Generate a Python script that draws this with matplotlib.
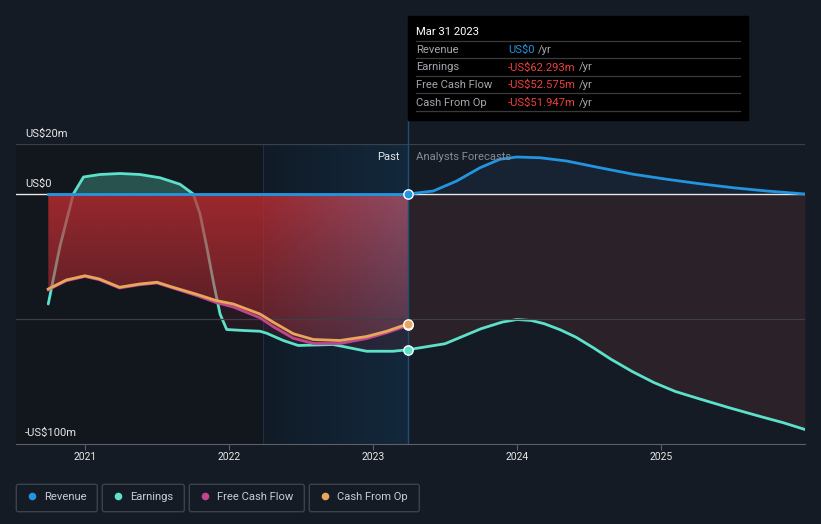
import numpy as np
import matplotlib.pyplot as plt
from matplotlib.patches import Rectangle, FancyBboxPatch

# data (decimal years, US$ millions)
earn_past_x = [2020.745, 2020.826, 2020.919, 2020.99, 2021.104, 2021.243, 2021.382, 2021.521,
               2021.66, 2021.752, 2021.799, 2021.845, 2021.891, 2021.938, 2021.984, 2022.10,
               2022.215, 2022.262, 2022.377, 2022.481, 2022.722, 2022.792, 2022.956, 2023.139,
               2023.243]
earn_past_y = [-44, -21, 0, 6.8, 7.8, 8.2, 7.8, 6.5, 3.9, 0, -8, -21, -35, -48, -54.2, -54.6,
               -54.9, -55.7, -58.6, -60.6, -60.2, -61, -62.9, -62.9, -62.293]

earn_fc_x = [2023.243, 2023.5, 2023.75, 2023.9, 2024.0, 2024.1, 2024.19, 2024.30, 2024.41,
             2024.53, 2024.65, 2024.8, 2024.95, 2025.1, 2025.27, 2025.48, 2025.69, 2025.85, 2026.0]
earn_fc_y = [-62.293, -59.9, -53.9, -51.2, -50.2, -50.6, -51.9, -54.3, -57.3, -61.5, -66,
             -71, -75.4, -79, -82, -85.6, -89, -91.5, -94.2]

cfo_x = [2020.745, 2020.87, 2021.0, 2021.10, 2021.24, 2021.38, 2021.50, 2021.61, 2021.78,
         2021.91, 2022.03, 2022.215, 2022.308, 2022.447, 2022.586, 2022.771, 2022.956,
         2023.095, 2023.243]
cfo_y = [-38, -34.4, -32.7, -34, -37.3, -36, -35.3, -37.3, -40.2, -42.6, -44, -48, -51.3,
         -55.9, -58.2, -58.6, -57, -54.9, -51.947]
fcf_y = [-38.3, -34.7, -33.0, -34.3, -37.6, -36.3, -35.6, -37.6, -40.7, -43.4, -45.2, -49.5,
         -53.1, -57.7, -59.8, -59.8, -57.8, -55.5, -52.575]

rev_past_x = [2020.745, 2023.243]
rev_past_y = [0, 0]
rev_fc_x = [2023.245, 2023.419, 2023.581, 2023.743, 2023.882, 2023.998, 2024.16, 2024.345,
            2024.576, 2024.808, 2025.04, 2025.271, 2025.502, 2025.734, 2026.0]
rev_fc_y = [0, 1.2, 5.2, 10.5, 13.9, 14.8, 14.5, 13.2, 10.5, 7.9, 5.9, 4.1, 2.5, 1.2, 0]

years = [2021, 2022, 2023, 2024, 2025]
legend_names = ['Revenue', 'Earnings', 'Free Cash Flow', 'Cash From Op']
tip_rows = [('Revenue', 'US$0'), ('Earnings', '-US$62.293m'),
            ('Free Cash Flow', '-US$52.575m'), ('Cash From Op', '-US$51.947m')]

c_rev = '#2394df'
c_earn = '#5ce1cb'
c_fcf = '#c2468c'
c_cfo = '#e8a85c'
bg = '#151b25'

W, H = 821, 524
plt.rcParams['font.family'] = ['Roboto', 'DejaVu Sans']
fs = 8.1

fig = plt.figure(figsize=(W / 100, H / 100), dpi=100, facecolor=bg)
ax = fig.add_axes([16 / W, 80 / H, 789 / W, 300 / H])
ax.set_facecolor(bg)
ax.set_xlim(2020.521, 2026.0)
ax.set_ylim(-100, 20)

past_end = 2023.243
hl_start = 2022.238
start = 2020.745

# background regions
ax.axvspan(2020.521, hl_start, color='#12161d', lw=0, zorder=0)
g = np.linspace(0, 1, 200)
c0 = np.array([0x11, 0x1b, 0x27]) / 255
c1 = np.array([0x13, 0x28, 0x3c]) / 255
img = (c0[None, :] * (1 - g[:, None]) + c1[None, :] * g[:, None])[None, :, :]
ax.imshow(img, extent=[hl_start, past_end, -100, 20], aspect='auto', zorder=0.5)
ax.axvline(hl_start, color='#1d3042', lw=0.8, zorder=1)

# grid
ax.axhline(20, color='#3a4049', lw=0.9, zorder=1)
ax.axhline(-50, color='#3d3f47', lw=0.9, zorder=4)
ax.axhline(0, color='#e8e8e8', lw=1.0, zorder=4)

# fills
ex = np.array(earn_past_x)
ey = np.array(earn_past_y)
ax.fill_between(ex, ey, 0, where=ey >= 0, interpolate=True, color='#3d8f80', alpha=0.5, lw=0, zorder=2)
ax.fill_between(ex, np.minimum(ey, 0), 0, color='#b03040', alpha=0.13, lw=0, zorder=2)
ax.fill_between(earn_fc_x, earn_fc_y, 0, color='#2a2129', lw=0, zorder=1.5)
ax.fill_between(rev_fc_x, rev_fc_y, 0, color='#1a2a3c', alpha=0.6, lw=0, zorder=1.5)

ax.plot(earn_past_x, earn_past_y, color=c_earn, lw=2, zorder=3, solid_capstyle='round')
ax.plot(earn_fc_x, earn_fc_y, color=c_earn, lw=2, zorder=3, solid_capstyle='round')

# red gradient fill for cash flow area
nx, ny = 300, 120
xs = np.linspace(start, past_end, nx)
t_h = np.clip((xs - hl_start) / (past_end - hl_start), 0, 1)
red = np.array([190, 45, 50]) / 255
mauve = np.array([170, 85, 110]) / 255
rgb = red[None, :] * (1 - t_h[:, None]) + mauve[None, :] * t_h[:, None]
alpha = np.linspace(0.78, 0.3, ny)
rgba = np.zeros((ny, nx, 4))
rgba[:, :, :3] = rgb[None, :, :]
rgba[:, :, 3] = alpha[:, None]
poly = ax.fill_between(cfo_x, fcf_y, 0, color='none', lw=0)
im = ax.imshow(rgba, extent=[start, past_end, -62, 0], origin='upper', aspect='auto', zorder=3.5)
im.set_clip_path(poly.get_paths()[0], transform=ax.transData)

ax.plot(cfo_x, fcf_y, color=c_fcf, lw=2, zorder=5)
ax.plot(cfo_x, cfo_y, color=c_cfo, lw=2, zorder=5.5)
ax.plot(rev_past_x, rev_past_y, color=c_rev, lw=2, zorder=6)
ax.plot(rev_fc_x, rev_fc_y, color=c_rev, lw=2, zorder=6)

ax.axvline(past_end, color='#1f4f75', lw=1, zorder=5)

ax.scatter([past_end], [fcf_y[-1]], s=45, color=c_fcf, edgecolor='white', lw=1, zorder=7)
ax.scatter([past_end], [cfo_y[-1]], s=45, color=c_cfo, edgecolor='white', lw=1, zorder=7)
ax.scatter([past_end], [earn_past_y[-1]], s=45, color=c_earn, edgecolor='white', lw=1, zorder=7)
ax.scatter([past_end], [0], s=45, color=c_rev, edgecolor='white', lw=1, zorder=7)

for s in ['top', 'right', 'left']:
    ax.spines[s].set_visible(False)
ax.spines['bottom'].set_color('#5a606a')
ax.set_yticks([])
ax.set_xticks(years)
ax.set_xticklabels([])
ax.tick_params(axis='x', length=4, color='#5a606a')

# overlay in pixel coords
ov = fig.add_axes([0, 0, 1, 1])
ov.set_xlim(0, W)
ov.set_ylim(H, 0)
ov.axis('off')
ov.patch.set_alpha(0)

ov.plot([408, 408], [120, 144], color='#1f4f75', lw=1)

for yr in years:
    px = 85 + (yr - 2021) * 144
    ov.text(px, 460.5, str(yr), color='#e6e6e6', fontsize=7.5, ha='center', va='baseline')

ov.text(25, 136.5, 'US$20m', color='#e6e6e6', fontsize=fs, va='baseline')
ov.text(25, 186.5, 'US$0', color='#e6e6e6', fontsize=fs, va='baseline')
ov.text(25, 436, '-US$100m', color='#e6e6e6', fontsize=fs, va='baseline')
ov.text(400, 160, 'Past', color='#e6e6e6', fontsize=fs, ha='right', va='baseline')
ov.text(416, 160.5, 'Analysts Forecasts', color='#868b94', fontsize=fs, va='baseline')

# tooltip
ov.add_patch(Rectangle((408, 16), 340, 104, color='black', zorder=10))
ov.text(416, 35.3, 'Mar 31 2023', color='white', fontsize=fs, va='baseline', zorder=11)
for yline in [41.3, 58.3, 76.3, 93.3, 111]:
    ov.plot([416, 740], [yline, yline], color='#3a3a3a', lw=0.9, zorder=11)
base = [53.3, 70.5, 88.3, 105.5]
val_texts = []
for i, (lab, val) in enumerate(tip_rows):
    ov.text(416, base[i], lab, color='#a3a7ad', fontsize=fs, va='baseline', zorder=11)
    vc = c_rev if i == 0 else '#ee3f3f'
    val_texts.append(ov.text(508, base[i], val, color=vc, fontsize=fs, va='baseline', zorder=11))

fig.canvas.draw()
rend = fig.canvas.get_renderer()
for i, t in enumerate(val_texts):
    x1 = t.get_window_extent(renderer=rend).x1
    ov.text(x1 + 3.5, base[i], '/yr', color='#a3a7ad', fontsize=fs, va='baseline', zorder=11)

# legend
boxes = [(16.3, 97.3), (102.3, 184.3), (189.3, 304.3), (309.3, 419.3)]
dots = [32, 117.7, 205, 325]
cols = [c_rev, c_earn, c_fcf, c_cfo]
for (x0, x1), dx, col, name in zip(boxes, dots, cols, legend_names):
    ov.add_patch(FancyBboxPatch((x0, 484.3), x1 - x0, 27.4, boxstyle='round,pad=0,rounding_size=2',
                                facecolor='none', edgecolor='#3c424c', lw=1))
    ov.scatter([dx], [496], s=30, color=col, lw=0)
    ov.text(dx + 12, 500, name, color='#c8cdd3', fontsize=fs, va='baseline')

fig.savefig('out.png', dpi=100, facecolor=bg)
